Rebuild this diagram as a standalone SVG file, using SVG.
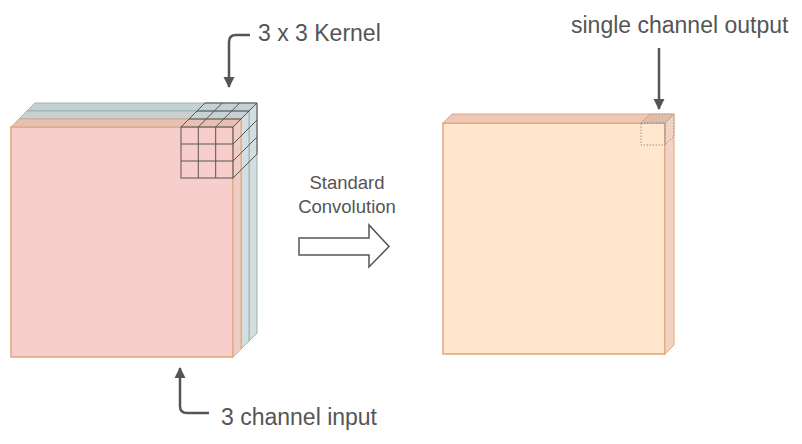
<svg xmlns="http://www.w3.org/2000/svg" width="802" height="444" viewBox="0 0 802 444">
<style>
.lbl{font-family:"Liberation Sans",Arial,sans-serif;font-size:23px;fill:#555;}
.lbl2{font-family:"Liberation Sans",Arial,sans-serif;font-size:18.5px;fill:#555;text-anchor:middle;}
.blue-f{fill:#c8d5d9;stroke:#9fb0b5;stroke-width:1;}
.blue-t{fill:#c3d1d5;stroke:#9fb0b5;stroke-width:1;}
.blue-s{fill:#d3dee0;stroke:#9fb0b5;stroke-width:1;}
.pink-f{fill:#f8cecc;stroke:#e0a878;stroke-width:1.5;}
.pink-t{fill:#e6c0b6;stroke:#e0a878;stroke-width:1;}
.pink-s{fill:#efcdc6;stroke:#e0a878;stroke-width:1;}
.org-f{fill:#ffe6cc;stroke:#e0a878;stroke-width:1.5;}
.org-t{fill:#edc8b8;stroke:#e0a878;stroke-width:1;}
.org-s{fill:#f3d2c4;stroke:#e0a878;stroke-width:1;}
.grid{fill:none;stroke:#555;stroke-width:1;}
.cell{fill:none;stroke:#999;stroke-width:1;stroke-dasharray:1.5 1.5;}
.conn{fill:none;stroke:#555;stroke-width:2.5;}
</style>
<defs>
<marker id="ah" markerUnits="userSpaceOnUse" markerWidth="12" markerHeight="12" viewBox="0 0 12 12" refX="10" refY="6" orient="auto">
<path d="M0,0.5 L11,6 L0,11.5 Z" fill="#555"/>
</marker>
</defs>

<g id="input-channel-3">
<rect class="blue-f" x="27" y="111" width="222" height="230"/>
<polygon class="blue-t" points="27,111 35,103 257,103 249,111"/>
<polygon class="blue-s" points="249,111 257,103 257,333 249,341"/>
</g>
<g id="input-channel-2">
<rect class="blue-f" x="19" y="119" width="222" height="230"/>
<polygon class="blue-t" points="19,119 27,111 249,111 241,119" style="fill:#c9d0d0"/>
<polygon class="blue-s" points="241,119 249,111 249,341 241,349"/>
</g>
<g id="input-channel-1">
<rect class="pink-f" x="11" y="127" width="222" height="230"/>
<polygon class="pink-t" points="11,127 19,119 241,119 233,127"/>
<polygon class="pink-s" points="233,127 241,119 241,349 233,357"/>
</g>

<g id="kernel">
<rect class="grid" x="181" y="127" width="52" height="51"/>
<path class="grid" d="M198.3,127V178M215.7,127V178M181,144H233M181,161H233"/>
<path class="grid" d="M181,127L205,103M198.3,127L222.3,103M215.7,127L239.7,103M233,127L257,103"/>
<path class="grid" d="M189,119H241M197,111H249M205,103H257"/>
<path class="grid" d="M233,144L257,120M233,161L257,137M233,178L257,154M257,103V154"/>
</g>

<g id="output">
<rect class="org-f" x="443" y="123" width="222" height="231"/>
<polygon class="org-t" points="443,123 452,114 674,114 665,123"/>
<polygon class="org-s" points="665,123 674,114 674,345 665,354"/>
</g>
<g id="output-cell">
<polygon class="cell" points="641,123 650,114 674,114 665,123" style="fill:#dfbca6"/>
<polygon class="cell" points="665,123 674,114 674,136 665,145"/>
<rect class="cell" x="641" y="123" width="24" height="22"/>
</g>

<g id="connectors">
<path class="conn" d="M250,35H236Q229,35 229,42V87" marker-end="url(#ah)"/>
<path class="conn" d="M209,413H187Q180,413 180,406V368" marker-end="url(#ah)"/>
<path class="conn" d="M659,48V109" marker-end="url(#ah)"/>
<polygon points="299,238 369,238 369,225 389,246.5 369,267 369,255 299,255" fill="#fff" stroke="#555" stroke-width="1.5"/>
</g>

<g id="labels">
<text class="lbl" x="258" y="41">3 x 3 Kernel</text>
<text class="lbl" x="571" y="33">single channel output</text>
<text class="lbl" x="221" y="425">3 channel input</text>
<text class="lbl2" x="347" y="189">Standard</text>
<text class="lbl2" x="347" y="213">Convolution</text>
</g>
</svg>
